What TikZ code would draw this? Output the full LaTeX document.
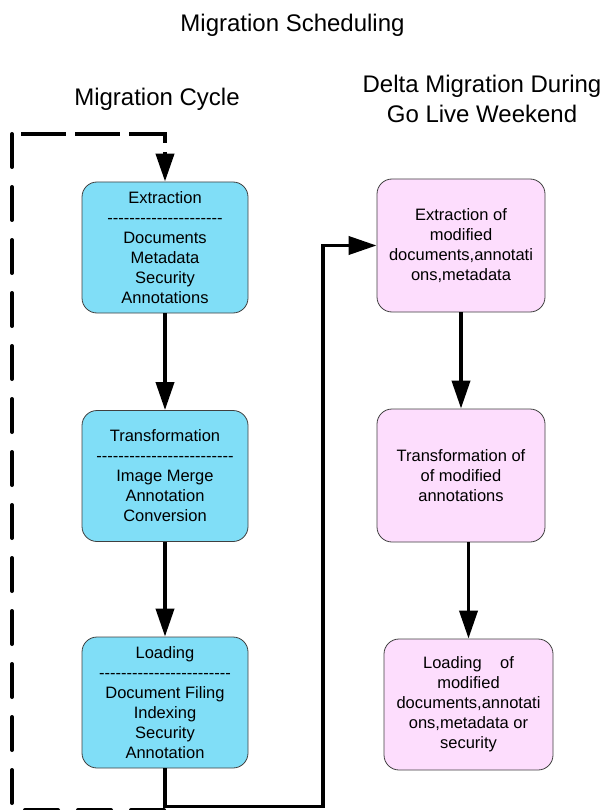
\documentclass[tikz,border=0pt]{standalone}
\usepackage{fontspec}
\setmainfont{Liberation Sans}[Ligatures=TeXOff]
\usetikzlibrary{arrows.meta}
\definecolor{cyanbox}{RGB}{128,222,247}
\definecolor{pinkbox}{RGB}{253,221,253}
\begin{document}
\begin{tikzpicture}[x=1pt,y=-1pt,
  box/.style={draw=black!75, line width=0.8pt, rounded corners=15pt, align=center, inner sep=0pt,
              font=\fontsize{16.5}{20}\selectfont},
  leftbox/.style={box, fill=cyanbox, minimum width=166pt, minimum height=131pt},
  rightbox/.style={box, fill=pinkbox, minimum width=168pt, minimum height=133pt},
  titletext/.style={font=\fontsize{24}{30}\selectfont, anchor=base, inner sep=0pt},
  flowtip/.style={-{Triangle[length=28pt,width=18pt]}},
  flow/.style={line width=3.8pt, flowtip},
  loopline/.style={line width=4pt, line cap=round}
]
\useasboundingbox (0,0) rectangle (609,810);

% titles
\node[titletext] (title) at (292.5,32) {Migration Scheduling};
\node[titletext] (lefttitle) at (157,106) {Migration Cycle};
\node[titletext] (righttitle1) at (482,93) {Delta Migration During};
\node[titletext] (righttitle2) at (482,123) {Go Live Weekend};

% left column
\node[leftbox] (ext) at (165,247.5) {Extraction\\---------------------\\Documents\\Metadata\\Security\\Annotations};
\node[leftbox] (tra) at (165,476) {Transformation\\-------------------------\\Image Merge\\Annotation\\Conversion};
\node[leftbox] (load) at (165,702.5) {Loading\\------------------------\\Document Filing\\Indexing\\Security\\Annotation};

% right column
\node[rightbox] (r1) at (461,245.5) {Extraction of\\modified\\documents,annotati\\ons,metadata};
\node[rightbox] (r2) at (461,475.5) {Transformation of\\of modified\\annotations};
\node[rightbox, minimum width=169pt, minimum height=131pt] (r3) at (468.5,704.5) {Loading\ \ \ \ of\\modified\\documents,annotati\\ons,metadata or\\security};

% arrows
\draw[flow] (ext.south) -- (tra.north);
\draw[flow] (tra.south) -- (load.north);
\draw[flow] (r1.south) -- (r2.north);
\draw[flow] (r2.south -| r3.north) -- (r3.north);

% solid link to delta migration
\coordinate (sc) at (323,806.5);
\draw[flow] (load.south) |- (sc) |- (r1.west);

% dashed loop back
\coordinate (d0) at (165,810);
\coordinate (d1) at (12,134);
\draw[loopline, dash pattern=on 33pt off 20pt, dash phase=52pt] (d0) -| (d1);
\draw[line width=4pt, dash pattern=on 45pt off 9pt, dash phase=45pt, flowtip] (d1) -| (ext.north);
\end{tikzpicture}
\end{document}
